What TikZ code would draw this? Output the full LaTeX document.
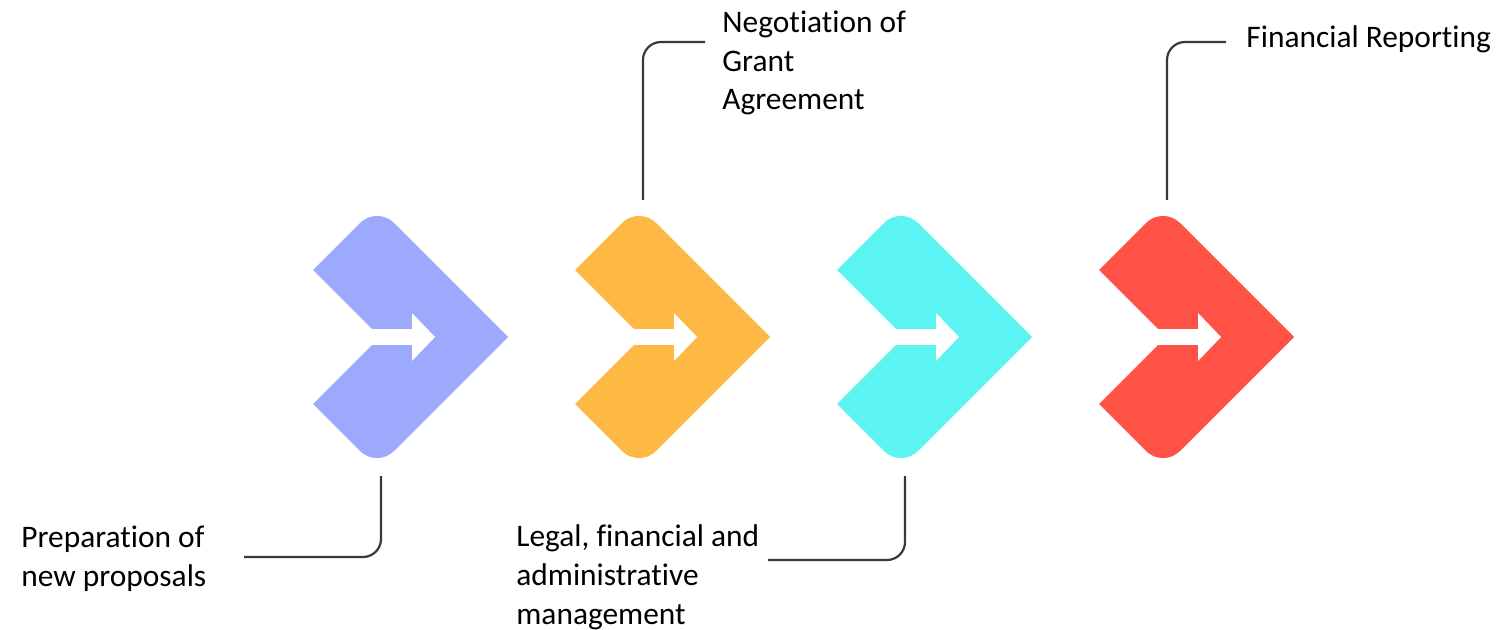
\documentclass[tikz,border=0pt]{standalone}
\usepackage{fontspec}
\setmainfont{Carlito}[Ligatures=NoCommon]
\usetikzlibrary{positioning,calc}
\definecolor{stepblue}{HTML}{9CA9FD}
\definecolor{steporange}{HTML}{FEB945}
\definecolor{stepcyan}{HTML}{5CF3F3}
\definecolor{stepred}{HTML}{FF5246}
\definecolor{linkgray}{HTML}{3F3737}
\tikzset{
	x=0.5pt, y=-0.5pt,% one unit is one pixel of the layout
	label text/.style={inner sep=0pt, anchor=base west, align=left, font=\fontsize{15.7}{19.3}\selectfont},% base = last line
	link/.style={draw=linkgray, line width=1.1pt, rounded corners=9pt}
}
% chevron with a white arrow: left x, colour, name
\newcommand{\chevron}[3]{
	\fill[#2] (#1,270) [rounded corners=12pt] -- (#1+64,206) [sharp corners] -- (#1+195,337) [rounded corners=12pt] -- (#1+64,468) [sharp corners] -- (#1,404) -- (#1+67,337) -- cycle;
	\fill[white] (#1+50,329) rectangle (#1+99,345);
	\fill[white] (#1+99,313) -- (#1+122,337) -- (#1+99,361) -- cycle;
	\coordinate (#3 top) at (#1+68,200);
	\coordinate (#3 bottom) at (#1+68,476);
}

\begin{document}
\begin{tikzpicture}
	\useasboundingbox (0,0) rectangle (1503,630);
	\chevron{313}{stepblue}{c1}
	\chevron{575}{steporange}{c2}
	\chevron{837}{stepcyan}{c3}
	\chevron{1099}{stepred}{c4}
	\node[label text] (prep) at (21,586) {Preparation of\\new proposals};
	\node[label text] (nego) at (722,110) {Negotiation of\\Grant\\Agreement};
	\node[label text] (legal) at (516,624) {Legal, financial and\\administrative\\management};
	\node[label text] (report) at (1246,48) {Financial Reporting};
	\coordinate (prep end) at (244,557);
	\coordinate (nego end) at (705,42);
	\coordinate (legal end) at (768,560);
	\coordinate (report end) at (1226,42);
	\draw[link] (c1 bottom) |- (prep end);
	\draw[link] (c2 top) |- (nego end);
	\draw[link] (c3 bottom) |- (legal end);
	\draw[link] (c4 top) |- (report end);
\end{tikzpicture}
\end{document}
